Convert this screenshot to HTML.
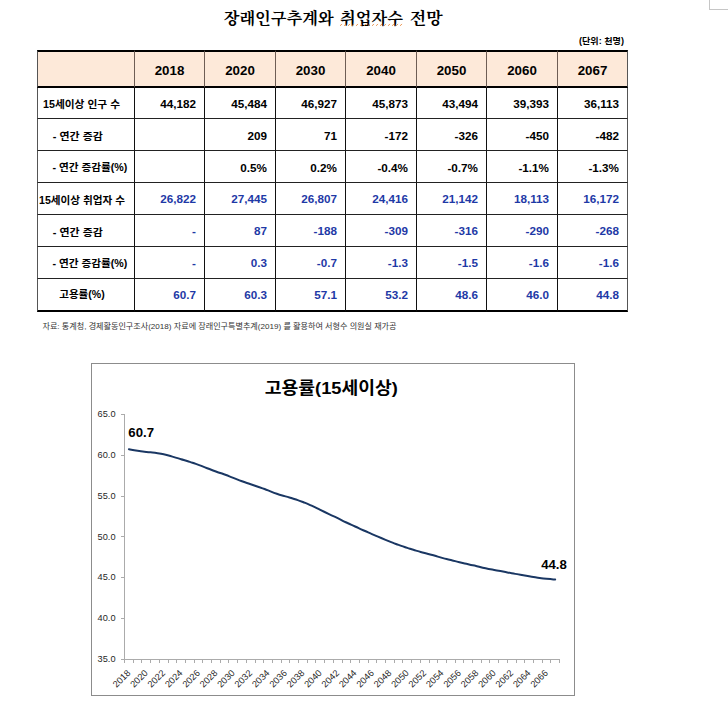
<!DOCTYPE html>
<html lang="ko">
<head>
<meta charset="utf-8">
<title>장래인구추계와 취업자수 전망</title>
<style>
html,body{margin:0;padding:0;background:#fff;}
body{width:728px;height:711px;position:relative;overflow:hidden;font-family:"Liberation Sans",sans-serif;color:#000;}
svg.k{position:absolute;overflow:visible;display:block;}
svg.k text{font-family:"Liberation Sans","Noto Sans CJK KR",sans-serif;font-weight:bold;}
svg.k text.ttl{font-family:"Liberation Serif","Noto Serif CJK SC","Noto Sans CJK KR",serif;font-weight:bold;}
svg.k text.src{font-weight:normal;}
h1,p{margin:0;padding:0;font-size:0;}
.corner{position:absolute;left:709px;top:-1px;width:30px;height:11px;border:1px solid #c6c6c6;box-sizing:border-box;}
table{position:absolute;left:37px;top:50px;border-collapse:separate;border-spacing:0;table-layout:fixed;width:591px;}
td,th{box-sizing:border-box;padding:0;margin:0;overflow:hidden;white-space:nowrap;font-weight:bold;}
th{height:38px;background:#fde9d9;border-top:2px solid #000;border-bottom:2px solid #000;border-right:1px solid #6e5d54;font-size:13.33px;text-align:center;vertical-align:middle;padding-top:3px;}
th:first-child{border-left:1px solid #555;}
th:last-child{border-right:1px solid #555;}
td{height:32px;border-bottom:1px solid #222;border-right:1px solid #111;font-size:11.7px;text-align:right;padding-right:8px;vertical-align:middle;padding-top:0;}
td:first-child{border-left:1px solid #555;}
td:last-child{border-right:1px solid #555;}
tr.r1 td{height:31px;}
tr.r2 td,tr.r3 td{padding-top:2px;}
tr.last td{height:33px;border-bottom:2px solid #000;}
tr.blue td{color:#1e39a6;}
.chart{position:absolute;left:91px;top:363px;width:484px;height:333px;box-sizing:border-box;border:1px solid #8c8c8c;background:#fff;}
.chart svg.plot{position:absolute;left:-92px;top:-364px;overflow:visible;}
.plot text{font-family:"Liberation Sans",sans-serif;}
.ax{font-size:9.2px;fill:#1f1f1f;}
.dl{font-size:13.2px;font-weight:bold;fill:#000;}
</style>
</head>
<body>
<div class="corner"></div>
<h1><svg class="k" style="left:223px;top:8px" width="112" height="19"><text class="ttl" x="0.7" y="16" font-size="16" fill="#000" textLength="110" lengthAdjust="spacingAndGlyphs">장래인구추계와</text></svg><svg class="k" style="left:339px;top:8px" width="65" height="19"><text class="ttl" x="1" y="16" font-size="16" fill="#000" textLength="63" lengthAdjust="spacingAndGlyphs">취업자수</text></svg><svg class="k" style="left:409px;top:8px" width="35" height="19"><text class="ttl" x="0.7" y="16" font-size="16" fill="#000" textLength="33" lengthAdjust="spacingAndGlyphs">전망</text></svg></h1>
<svg class="k" aria-hidden="true" style="left:0;top:0" width="728" height="40"><path d="M340.0 25.8l2.6 -2.2M344.0 25.8l2.6 -2.2M348.0 25.8l2.6 -2.2M352.0 25.8l2.6 -2.2M356.0 25.8l2.6 -2.2M360.0 25.8l2.6 -2.2M364.0 25.8l2.6 -2.2M368.0 25.8l2.6 -2.2M372.0 25.8l2.6 -2.2M376.0 25.8l2.6 -2.2M380.0 25.8l2.6 -2.2M384.0 25.8l2.6 -2.2M388.0 25.8l2.6 -2.2M392.0 25.8l2.6 -2.2M396.0 25.8l2.6 -2.2M400.0 25.8l2.6 -2.2" fill="none" stroke="#e67a22" stroke-width="1" stroke-dasharray="1 0.7"/></svg>
<p class="unit"><svg class="k" style="left:578px;top:36px" width="47" height="11"><text x="1" y="8.4" font-size="8.5" fill="#000" textLength="45" lengthAdjust="spacingAndGlyphs">(단위: 천명)</text></svg></p>
<table>
<colgroup><col style="width:98px"><col style="width:70px"><col style="width:71px"><col style="width:70px"><col style="width:71px"><col style="width:70px"><col style="width:71px"><col style="width:70px"></colgroup>
<thead><tr><th></th><th>2018</th><th>2020</th><th>2030</th><th>2040</th><th>2050</th><th>2060</th><th>2067</th></tr></thead>
<tbody>
<tr class="r1"><td><svg class="k" style="left:5px;top:47px" width="79" height="13"><text x="1" y="10.7" font-size="10.5" fill="#000" textLength="77" lengthAdjust="spacingAndGlyphs">15세이상 인구 수</text></svg></td><td>44,182</td><td>45,484</td><td>46,927</td><td>45,873</td><td>43,494</td><td>39,393</td><td>36,113</td></tr>
<tr class="r2"><td><svg class="k" style="left:14px;top:79px" width="53" height="13"><text x="1.8" y="10.5" font-size="10.5" fill="#000" textLength="50" lengthAdjust="spacingAndGlyphs">- 연간 증감</text></svg></td><td></td><td>209</td><td>71</td><td>-172</td><td>-326</td><td>-450</td><td>-482</td></tr>
<tr class="r3"><td><svg class="k" style="left:14px;top:111px" width="78" height="13"><text x="1.4" y="9.7" font-size="10.5" fill="#000" textLength="75" lengthAdjust="spacingAndGlyphs">- 연간 증감률(%)</text></svg></td><td></td><td>0.5%</td><td>0.2%</td><td>-0.4%</td><td>-0.7%</td><td>-1.1%</td><td>-1.3%</td></tr>
<tr class="blue"><td><svg class="k" style="left:1px;top:143px" width="89" height="13"><text x="1" y="10.5" font-size="10.5" fill="#000" textLength="86" lengthAdjust="spacingAndGlyphs">15세이상 취업자 수</text></svg></td><td>26,822</td><td>27,445</td><td>26,807</td><td>24,416</td><td>21,142</td><td>18,113</td><td>16,172</td></tr>
<tr class="blue"><td><svg class="k" style="left:14px;top:175px" width="53" height="13"><text x="1.8" y="10.5" font-size="10.5" fill="#000" textLength="50" lengthAdjust="spacingAndGlyphs">- 연간 증감</text></svg></td><td>-</td><td>87</td><td>-188</td><td>-309</td><td>-316</td><td>-290</td><td>-268</td></tr>
<tr class="blue"><td><svg class="k" style="left:14px;top:207px" width="78" height="13"><text x="1.4" y="9.7" font-size="10.5" fill="#000" textLength="75" lengthAdjust="spacingAndGlyphs">- 연간 증감률(%)</text></svg></td><td>-</td><td>0.3</td><td>-0.7</td><td>-1.3</td><td>-1.5</td><td>-1.6</td><td>-1.6</td></tr>
<tr class="last blue"><td><svg class="k" style="left:21px;top:239px" width="48" height="13"><text x="1.2" y="9.4" font-size="10.5" fill="#000" textLength="45.5" lengthAdjust="spacingAndGlyphs">고용률(%)</text></svg></td><td>60.7</td><td>60.3</td><td>57.1</td><td>53.2</td><td>48.6</td><td>46.0</td><td>44.8</td></tr>
</tbody>
</table>
<p class="source"><svg class="k" style="left:41px;top:321px" width="357" height="10"><text class="src" x="1.5" y="7.6" font-size="7.5" fill="#333" textLength="354" lengthAdjust="spacingAndGlyphs">자료: 통계청, 경제활동인구조사(2018) 자료에 장래인구특별추계(2019) 를 활용하여 서형수 의원실 재가공</text></svg></p>
<div class="chart">
<svg class="plot" width="728" height="711" viewBox="0 0 728 711">
<g stroke="#ababab" stroke-width="1" fill="none" shape-rendering="crispEdges">
<line x1="124.5" y1="414" x2="124.5" y2="660"/>
<line x1="124" y1="659.5" x2="560" y2="659.5"/>
<line x1="121" y1="414.5" x2="124" y2="414.5"/>
<line x1="121" y1="455.5" x2="124" y2="455.5"/>
<line x1="121" y1="496.5" x2="124" y2="496.5"/>
<line x1="121" y1="536.5" x2="124" y2="536.5"/>
<line x1="121" y1="577.5" x2="124" y2="577.5"/>
<line x1="121" y1="618.5" x2="124" y2="618.5"/>
<line x1="121" y1="659.5" x2="124" y2="659.5"/>
<line x1="124.5" y1="660" x2="124.5" y2="663"/>
<line x1="133.5" y1="660" x2="133.5" y2="663"/>
<line x1="141.5" y1="660" x2="141.5" y2="663"/>
<line x1="150.5" y1="660" x2="150.5" y2="663"/>
<line x1="159.5" y1="660" x2="159.5" y2="663"/>
<line x1="168.5" y1="660" x2="168.5" y2="663"/>
<line x1="176.5" y1="660" x2="176.5" y2="663"/>
<line x1="185.5" y1="660" x2="185.5" y2="663"/>
<line x1="194.5" y1="660" x2="194.5" y2="663"/>
<line x1="202.5" y1="660" x2="202.5" y2="663"/>
<line x1="211.5" y1="660" x2="211.5" y2="663"/>
<line x1="220.5" y1="660" x2="220.5" y2="663"/>
<line x1="228.5" y1="660" x2="228.5" y2="663"/>
<line x1="237.5" y1="660" x2="237.5" y2="663"/>
<line x1="246.5" y1="660" x2="246.5" y2="663"/>
<line x1="255.5" y1="660" x2="255.5" y2="663"/>
<line x1="263.5" y1="660" x2="263.5" y2="663"/>
<line x1="272.5" y1="660" x2="272.5" y2="663"/>
<line x1="281.5" y1="660" x2="281.5" y2="663"/>
<line x1="289.5" y1="660" x2="289.5" y2="663"/>
<line x1="298.5" y1="660" x2="298.5" y2="663"/>
<line x1="307.5" y1="660" x2="307.5" y2="663"/>
<line x1="315.5" y1="660" x2="315.5" y2="663"/>
<line x1="324.5" y1="660" x2="324.5" y2="663"/>
<line x1="333.5" y1="660" x2="333.5" y2="663"/>
<line x1="342.5" y1="660" x2="342.5" y2="663"/>
<line x1="350.5" y1="660" x2="350.5" y2="663"/>
<line x1="359.5" y1="660" x2="359.5" y2="663"/>
<line x1="368.5" y1="660" x2="368.5" y2="663"/>
<line x1="376.5" y1="660" x2="376.5" y2="663"/>
<line x1="385.5" y1="660" x2="385.5" y2="663"/>
<line x1="394.5" y1="660" x2="394.5" y2="663"/>
<line x1="402.5" y1="660" x2="402.5" y2="663"/>
<line x1="411.5" y1="660" x2="411.5" y2="663"/>
<line x1="420.5" y1="660" x2="420.5" y2="663"/>
<line x1="429.5" y1="660" x2="429.5" y2="663"/>
<line x1="437.5" y1="660" x2="437.5" y2="663"/>
<line x1="446.5" y1="660" x2="446.5" y2="663"/>
<line x1="455.5" y1="660" x2="455.5" y2="663"/>
<line x1="463.5" y1="660" x2="463.5" y2="663"/>
<line x1="472.5" y1="660" x2="472.5" y2="663"/>
<line x1="481.5" y1="660" x2="481.5" y2="663"/>
<line x1="489.5" y1="660" x2="489.5" y2="663"/>
<line x1="498.5" y1="660" x2="498.5" y2="663"/>
<line x1="507.5" y1="660" x2="507.5" y2="663"/>
<line x1="516.5" y1="660" x2="516.5" y2="663"/>
<line x1="524.5" y1="660" x2="524.5" y2="663"/>
<line x1="533.5" y1="660" x2="533.5" y2="663"/>
<line x1="542.5" y1="660" x2="542.5" y2="663"/>
<line x1="550.5" y1="660" x2="550.5" y2="663"/>
<line x1="559.5" y1="660" x2="559.5" y2="663"/>
</g>
<text class="ax" x="115.5" y="416.9" text-anchor="end">65.0</text>
<text class="ax" x="115.5" y="457.8" text-anchor="end">60.0</text>
<text class="ax" x="115.5" y="498.6" text-anchor="end">55.0</text>
<text class="ax" x="115.5" y="539.5" text-anchor="end">50.0</text>
<text class="ax" x="115.5" y="580.3" text-anchor="end">45.0</text>
<text class="ax" x="115.5" y="621.1" text-anchor="end">40.0</text>
<text class="ax" x="115.5" y="662.0" text-anchor="end">35.0</text>
<text class="ax" text-anchor="end" transform="translate(131.0 673.6) rotate(-45)">2018</text>
<text class="ax" text-anchor="end" transform="translate(148.4 673.6) rotate(-45)">2020</text>
<text class="ax" text-anchor="end" transform="translate(165.8 673.6) rotate(-45)">2022</text>
<text class="ax" text-anchor="end" transform="translate(183.2 673.6) rotate(-45)">2024</text>
<text class="ax" text-anchor="end" transform="translate(200.6 673.6) rotate(-45)">2026</text>
<text class="ax" text-anchor="end" transform="translate(218.0 673.6) rotate(-45)">2028</text>
<text class="ax" text-anchor="end" transform="translate(235.4 673.6) rotate(-45)">2030</text>
<text class="ax" text-anchor="end" transform="translate(252.8 673.6) rotate(-45)">2032</text>
<text class="ax" text-anchor="end" transform="translate(270.2 673.6) rotate(-45)">2034</text>
<text class="ax" text-anchor="end" transform="translate(287.6 673.6) rotate(-45)">2036</text>
<text class="ax" text-anchor="end" transform="translate(305.0 673.6) rotate(-45)">2038</text>
<text class="ax" text-anchor="end" transform="translate(322.4 673.6) rotate(-45)">2040</text>
<text class="ax" text-anchor="end" transform="translate(339.8 673.6) rotate(-45)">2042</text>
<text class="ax" text-anchor="end" transform="translate(357.2 673.6) rotate(-45)">2044</text>
<text class="ax" text-anchor="end" transform="translate(374.6 673.6) rotate(-45)">2046</text>
<text class="ax" text-anchor="end" transform="translate(392.0 673.6) rotate(-45)">2048</text>
<text class="ax" text-anchor="end" transform="translate(409.4 673.6) rotate(-45)">2050</text>
<text class="ax" text-anchor="end" transform="translate(426.8 673.6) rotate(-45)">2052</text>
<text class="ax" text-anchor="end" transform="translate(444.2 673.6) rotate(-45)">2054</text>
<text class="ax" text-anchor="end" transform="translate(461.6 673.6) rotate(-45)">2056</text>
<text class="ax" text-anchor="end" transform="translate(479.0 673.6) rotate(-45)">2058</text>
<text class="ax" text-anchor="end" transform="translate(496.4 673.6) rotate(-45)">2060</text>
<text class="ax" text-anchor="end" transform="translate(513.8 673.6) rotate(-45)">2062</text>
<text class="ax" text-anchor="end" transform="translate(531.2 673.6) rotate(-45)">2064</text>
<text class="ax" text-anchor="end" transform="translate(548.6 673.6) rotate(-45)">2066</text>
<path d="M128.9 449.2 C131.8 449.7 131.8 449.9 137.6 450.8 C143.4 451.8 140.5 451.3 146.3 451.9 C152.1 452.6 149.2 452.0 155.0 452.8 C160.8 453.6 157.9 453.1 163.7 454.3 C169.5 455.6 166.6 455.0 172.4 456.6 C178.2 458.2 175.3 457.4 181.1 459.2 C186.9 460.9 184.0 460.0 189.8 461.9 C195.6 463.8 192.7 462.8 198.5 464.9 C204.3 467.0 201.4 466.0 207.2 468.2 C213.0 470.4 210.1 469.4 215.9 471.5 C221.7 473.6 218.8 472.4 224.6 474.5 C230.4 476.6 227.5 475.6 233.3 477.9 C239.1 480.1 236.2 479.1 242.0 481.3 C247.8 483.4 244.9 482.3 250.7 484.2 C256.5 486.2 253.6 485.2 259.4 487.2 C265.2 489.2 262.3 488.2 268.1 490.4 C273.9 492.6 271.0 491.8 276.8 493.8 C282.6 495.8 279.7 494.6 285.5 496.4 C291.3 498.1 288.4 497.1 294.2 499.0 C300.0 500.9 297.1 499.8 302.9 502.0 C308.7 504.2 305.8 503.0 311.6 505.7 C317.4 508.3 314.5 507.0 320.3 509.9 C326.1 512.7 323.2 511.3 329.0 514.1 C334.8 516.9 331.9 515.4 337.7 518.2 C343.5 521.0 340.6 519.8 346.4 522.5 C352.2 525.3 349.3 523.9 355.1 526.5 C360.9 529.2 358.0 527.9 363.8 530.5 C369.6 533.0 366.7 531.8 372.5 534.3 C378.3 536.8 375.4 535.6 381.2 538.0 C387.0 540.4 384.1 539.2 389.9 541.6 C395.7 543.9 392.8 542.8 398.6 544.9 C404.4 547.0 401.5 546.0 407.3 547.9 C413.1 549.8 410.2 548.9 416.0 550.6 C421.8 552.3 418.9 551.4 424.7 553.0 C430.5 554.5 427.6 553.7 433.4 555.3 C439.2 556.9 436.3 556.3 442.1 557.9 C447.9 559.5 445.0 558.5 450.8 560.0 C456.6 561.5 453.7 560.8 459.5 562.3 C465.3 563.7 462.4 563.0 468.2 564.3 C474.0 565.7 471.1 564.9 476.9 566.2 C482.7 567.6 479.8 567.1 485.6 568.3 C491.4 569.6 488.5 568.9 494.3 570.0 C500.1 571.1 497.2 570.5 503.0 571.6 C508.8 572.6 505.9 572.2 511.7 573.2 C517.5 574.3 514.6 573.8 520.4 574.8 C526.2 575.8 523.3 575.3 529.1 576.3 C534.9 577.2 532.0 576.8 537.8 577.7 C543.6 578.5 540.7 578.2 546.5 578.8 C552.3 579.4 552.3 579.3 555.2 579.5" fill="none" stroke="#1a3763" stroke-width="2" stroke-linejoin="round" stroke-linecap="round"/>
<text class="dl" x="128.3" y="436.9">60.7</text>
<text class="dl" x="541.2" y="569.1">44.8</text>
</svg>
<svg class="k" style="left:171px;top:15px" width="137" height="19"><text x="1.8" y="14.5" font-size="17" fill="#000" textLength="133" lengthAdjust="spacingAndGlyphs">고용률(15세이상)</text></svg>
</div>
</body>
</html>
